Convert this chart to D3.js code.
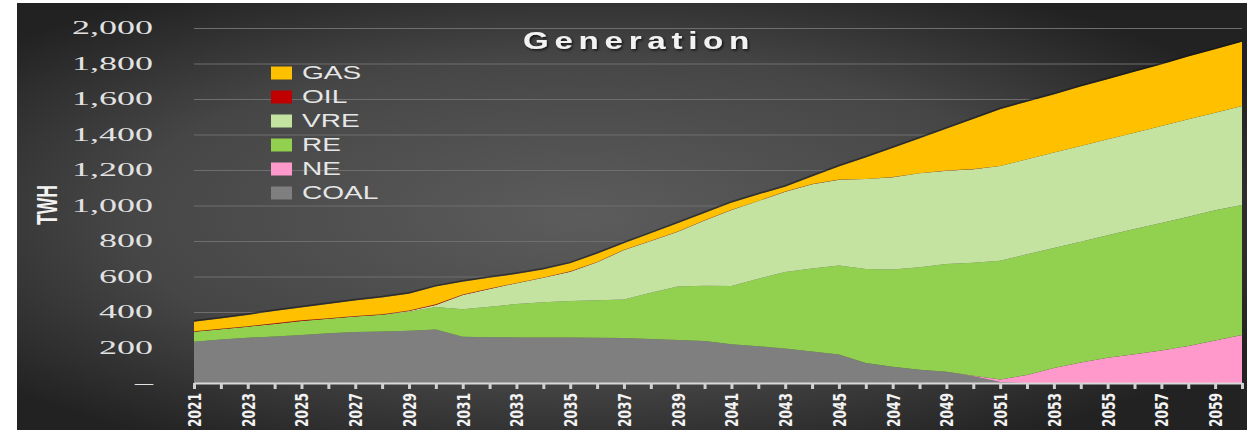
<!DOCTYPE html>
<html>
<head>
<meta charset="utf-8">
<script src="https://cdnjs.cloudflare.com/ajax/libs/d3/7.8.5/d3.min.js"></script>
<style>
  body { margin: 0; background: #fff; }
  svg { display: block; }
</style>
</head>
<body>
<div id="chart"></div>
<script>
// years on the category axis
var years = [2021, 2022, 2023, 2024, 2025, 2026, 2027, 2028, 2029, 2030,
             2031, 2032, 2033, 2034, 2035, 2036, 2037, 2038, 2039, 2040,
             2041, 2042, 2043, 2044, 2045, 2046, 2047, 2048, 2049, 2050,
             2051, 2052, 2053, 2054, 2055, 2056, 2057, 2058, 2059, 2060];

// generation by source, TWh
var coal = [233, 245, 255, 262, 270, 280, 288, 290, 295, 302,
            261, 258, 257, 257, 256, 255, 254, 248, 242, 236,
            218, 207, 195, 177, 160, 112, 92, 75, 64, 38,
            5, 0, 0, 0, 0, 0, 0, 0, 0, 0];
var ne = [0, 0, 0, 0, 0, 0, 0, 0, 0, 0,
          0, 0, 0, 0, 0, 0, 0, 0, 0, 0,
          0, 0, 0, 0, 0, 0, 0, 0, 0, 3,
          15, 45, 85, 115, 142, 162, 183, 208, 240, 270];
var re = [56, 58, 62, 71, 80, 82, 86, 95, 107, 126,
          154, 172, 188, 198, 206, 211, 217, 260, 301, 312,
          328, 381, 430, 468, 502, 530, 548, 577, 606, 637,
          669, 680, 676, 681, 690, 706, 718, 729, 733, 733];
var vre = [0, 0, 0, 0, 0, 0, 0, 0, 3, 12,
           81, 100, 117, 138, 165, 214, 278, 292, 309, 367,
           429, 437, 453, 475, 483, 507, 519, 529, 526, 526,
           534, 535, 537, 539, 541, 542, 547, 549, 550, 558];
var oil = [3, 3, 3, 3, 3, 3, 3, 3, 3, 3,
           2, 2, 2, 2, 2, 2, 2, 2, 2, 2,
           1, 1, 1, 1, 1, 1, 1, 1, 1, 1,
           0, 0, 0, 0, 0, 0, 0, 0, 0, 0];
var gas = [53, 58, 63, 69, 73, 80, 88, 94, 95, 100,
           73, 61, 50, 45, 45, 46, 36, 41, 46, 41,
           40, 36, 27, 42, 74, 120, 164, 196, 236, 282,
           319, 325, 328, 335, 338, 344, 347, 353, 357, 362];

var keys = ["COAL", "NE", "RE", "VRE", "OIL", "GAS"];
var legendKeys = ["GAS", "OIL", "VRE", "RE", "NE", "COAL"];
var yTicks = [0, 200, 400, 600, 800, 1000, 1200, 1400, 1600, 1800, 2000];

var color = d3.scaleOrdinal()
    .domain(keys)
    .range(["#7f7f7f", "#ff99cc", "#92d050", "#c4e3a0", "#c00000", "#ffc000"]);

var W = 1247, H = 432;
var margin = {top: 28, right: 5, bottom: 49, left: 194},
    width = W - margin.left - margin.right,
    height = H - margin.top - margin.bottom;

var rows = years.map(function(yr, i) {
  return {year: yr, COAL: coal[i], NE: ne[i], RE: re[i], VRE: vre[i], OIL: oil[i], GAS: gas[i]};
});

var svg = d3.select("#chart").append("svg")
    .attr("width", W)
    .attr("height", H);

var defs = svg.append("defs");
var grad = defs.append("radialGradient")
    .attr("id", "bg")
    .attr("cx", 0.46).attr("cy", 0.5).attr("r", 0.62);
grad.append("stop").attr("offset", "0%").attr("stop-color", "#5c5c5c");
grad.append("stop").attr("offset", "60%").attr("stop-color", "#464646");
grad.append("stop").attr("offset", "100%").attr("stop-color", "#222");

var shadow = defs.append("filter").attr("id", "shadow")
    .attr("x", "-10%").attr("y", "-30%").attr("width", "120%").attr("height", "160%");
shadow.append("feDropShadow")
    .attr("dx", 1.5).attr("dy", 1.5).attr("stdDeviation", 1)
    .attr("flood-color", "#000").attr("flood-opacity", 0.7);

// dark panel
svg.append("rect")
    .attr("x", 17).attr("y", 3)
    .attr("width", W - 17).attr("height", 427)
    .attr("fill", "url(#bg)");

var g = svg.append("g")
    .attr("transform", "translate(" + margin.left + "," + margin.top + ")");

var x = d3.scaleLinear()
    .domain([years[0], years[years.length - 1]])
    .range([0, width]);

var y = d3.scaleLinear()
    .domain([0, 2000])
    .range([height, 0]);

// gridlines
g.append("g")
    .attr("class", "grid")
    .call(d3.axisLeft(y).tickValues(yTicks.slice(1)).tickSize(-width).tickFormat(""))
    .call(function(s) { s.select(".domain").remove(); })
    .selectAll("line")
    .attr("stroke", "#6e6e6e")
    .attr("stroke-width", 1);

// stacked areas
var series = d3.stack().keys(keys)(rows);

var area = d3.area()
    .x(function(d) { return x(d.data.year); })
    .y0(function(d) { return y(d[0]); })
    .y1(function(d) { return y(d[1]); });

g.append("g").selectAll("path")
    .data(series)
    .enter().append("path")
    .attr("fill", function(d) { return color(d.key); })
    .attr("d", area);

// faint shadow line along the top of the stack
g.append("path")
    .datum(series[series.length - 1])
    .attr("fill", "none")
    .attr("stroke", "rgba(20,20,20,0.55)")
    .attr("stroke-width", 1.5)
    .attr("transform", "translate(0,-1)")
    .attr("d", d3.line()
      .x(function(d) { return x(d.data.year); })
      .y(function(d) { return y(d[1]); }));

// x axis
var xAxis = g.append("g")
    .attr("transform", "translate(0," + height + ")")
    .call(d3.axisBottom(x)
      .tickValues(years)
      .tickSize(6)
      .tickSizeOuter(0)
      .tickFormat(function(d) { return d % 2 ? d : ""; }));

xAxis.select(".domain")
    .attr("stroke", "#d9d9d9")
    .attr("stroke-width", 2);
xAxis.selectAll(".tick line")
    .attr("stroke", "#d0d0d0")
    .attr("stroke-width", 3);
xAxis.selectAll(".tick text")
    .attr("transform", "rotate(-90)")
    .attr("x", -10)
    .attr("y", 0)
    .attr("dy", "0.36em")
    .attr("text-anchor", "end")
    .attr("textLength", 34)
    .attr("lengthAdjust", "spacingAndGlyphs")
    .style("font-family", "'Liberation Sans Narrow', 'DejaVu Sans Condensed', sans-serif")
    .style("font-weight", "bold")
    .style("font-size", "18px")
    .attr("fill", "#f2f2f2");

// y axis labels
var yAxis = g.append("g")
    .call(d3.axisLeft(y)
      .tickValues(yTicks)
      .tickSize(0)
      .tickFormat(function(d) { return d === 0 ? "\u2013" : d3.format(",")(d); }));

yAxis.select(".domain").remove();
yAxis.selectAll(".tick text")
    .attr("x", -41)
    .style("font-family", "'Liberation Serif', 'Times New Roman', serif")
    .style("font-size", "18px")
    .attr("fill", "#e2e2e2")
    .each(function() {
      var len = this.getComputedTextLength();
      d3.select(this).attr("textLength", len * 2.0).attr("lengthAdjust", "spacingAndGlyphs");
    });

// axis title
svg.append("text")
    .attr("transform", "translate(57,205) scale(1.6,1) rotate(-90)")
    .attr("text-anchor", "middle")
    .attr("textLength", 40)
    .attr("lengthAdjust", "spacingAndGlyphs")
    .style("font-family", "'Liberation Sans', Arial, sans-serif")
    .style("font-weight", "bold")
    .style("font-size", "19px")
    .attr("fill", "#f2f2f2")
    .text("TWH");

// chart title
svg.append("text")
    .attr("x", 523)
    .attr("y", 49)
    .attr("textLength", 232)
    .attr("lengthAdjust", "spacingAndGlyphs")
    .style("font-family", "'Liberation Sans', Arial, sans-serif")
    .style("font-weight", "bold")
    .style("font-size", "23px")
    .style("letter-spacing", "4px")
    .attr("fill", "#f2f2f2")
    .attr("filter", "url(#shadow)")
    .text("Generation");

// legend
var legend = svg.append("g")
    .attr("transform", "translate(271,73)");

var item = legend.selectAll("g")
    .data(legendKeys)
    .enter().append("g")
    .attr("transform", function(d, i) { return "translate(0," + (i * 24) + ")"; });

item.append("rect")
    .attr("x", 0).attr("y", -6.5)
    .attr("width", 21).attr("height", 13)
    .attr("fill", function(d) { return color(d); });

item.append("text")
    .attr("x", 31)
    .attr("y", 0)
    .attr("dy", "0.36em")
    .style("font-family", "'Liberation Sans', Arial, sans-serif")
    .style("font-size", "18px")
    .attr("fill", "#e6e6e6")
    .text(function(d) { return d; })
    .each(function() {
      var len = this.getComputedTextLength();
      d3.select(this).attr("textLength", len * 1.56).attr("lengthAdjust", "spacingAndGlyphs");
    });
</script>
</body>
</html>
